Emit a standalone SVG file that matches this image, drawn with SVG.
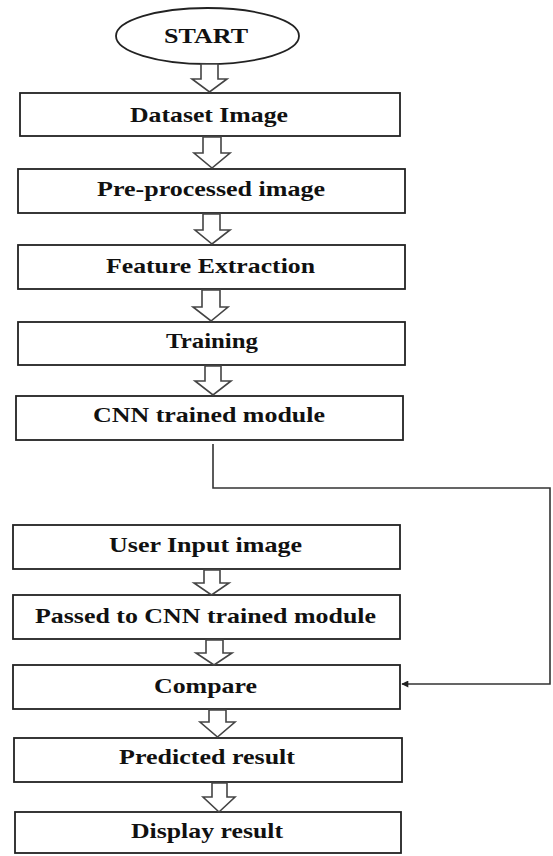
<svg xmlns="http://www.w3.org/2000/svg" width="553" height="856" viewBox="0 0 553 856">
<style>
.box{fill:#fff;stroke:#222;stroke-width:1.8}
.arr{fill:#fff;stroke:#444;stroke-width:1.6;stroke-linejoin:miter}
.t{font-family:"Liberation Serif","Times New Roman",serif;font-weight:bold;font-size:22px;fill:#111;text-anchor:middle}
.con{fill:none;stroke:#333;stroke-width:1.6}
</style>
<defs>
<marker id="ah" viewBox="0 0 10 10" refX="9" refY="5" markerWidth="8" markerHeight="7" orient="auto-start-reverse" markerUnits="userSpaceOnUse">
<path d="M0,0 L10,5 L0,10 z" fill="#222"/>
</marker>
</defs>
<rect width="553" height="856" fill="#fff"/>
<g id="start"><ellipse cx="207.5" cy="36" rx="91.5" ry="28" class="box"/><text x="206" y="43" class="t" textLength="84" lengthAdjust="spacingAndGlyphs">START</text></g>
<g id="dataset"><rect x="20" y="93" width="380" height="43" class="box"/><text x="209" y="122" class="t" textLength="158" lengthAdjust="spacingAndGlyphs">Dataset Image</text></g>
<g id="preprocessed"><rect x="18" y="169" width="387" height="44" class="box"/><text x="211" y="196" class="t" textLength="228" lengthAdjust="spacingAndGlyphs">Pre-processed image</text></g>
<g id="feature"><rect x="18" y="245" width="387" height="44" class="box"/><text x="210.5" y="273" class="t" textLength="209" lengthAdjust="spacingAndGlyphs">Feature Extraction</text></g>
<g id="training"><rect x="18" y="322" width="387" height="43" class="box"/><text x="212" y="348" class="t" textLength="92" lengthAdjust="spacingAndGlyphs">Training</text></g>
<g id="cnn"><rect x="16" y="396" width="387" height="44" class="box"/><text x="209" y="422" class="t" textLength="232" lengthAdjust="spacingAndGlyphs">CNN trained module</text></g>
<g id="userinput"><rect x="13" y="525" width="387" height="44" class="box"/><text x="205.5" y="552" class="t" textLength="193" lengthAdjust="spacingAndGlyphs">User Input image</text></g>
<g id="passed"><rect x="13" y="595" width="387" height="44" class="box"/><text x="205.5" y="623" class="t" textLength="341" lengthAdjust="spacingAndGlyphs">Passed to CNN trained module</text></g>
<g id="compare"><rect x="13" y="665" width="387" height="44" class="box"/><text x="205.5" y="693" class="t" textLength="103" lengthAdjust="spacingAndGlyphs">Compare</text></g>
<g id="predicted"><rect x="14" y="738" width="388" height="44" class="box"/><text x="207" y="764" class="t" textLength="176" lengthAdjust="spacingAndGlyphs">Predicted result</text></g>
<g id="display"><rect x="15" y="812" width="386" height="41" class="box"/><text x="207" y="838" class="t" textLength="152" lengthAdjust="spacingAndGlyphs">Display result</text></g>
<g id="connectors">
<polygon class="arr" points="201,64 218,64 218,79 227,79 209.5,92 192,79 201,79"/>
<polygon class="arr" points="203,137 221,137 221,153 230,153 212,168 194,153 203,153"/>
<polygon class="arr" points="203,214 220,214 220,230 230,230 212,244 195,230 203,230"/>
<polygon class="arr" points="202,290 220,290 220,307 228,307 211,321 193,307 202,307"/>
<polygon class="arr" points="205,366 221,366 221,381 231,381 213,395 195,381 205,381"/>
<polygon class="arr" points="204,570 220,570 220,583 229,583 211.5,595 194,583 204,583"/>
<polygon class="arr" points="206,640 223,640 223,653 232,653 214,665 196,653 206,653"/>
<polygon class="arr" points="209,710 226,710 226,722 235,722 217.5,737 200,722 209,722"/>
<polygon class="arr" points="212,783 227,783 227,797 235,797 219,812 203,797 212,797"/>
<path class="con" d="M213,444 V488 H550 V684 H402" marker-end="url(#ah)"/>
</g>
</svg>
